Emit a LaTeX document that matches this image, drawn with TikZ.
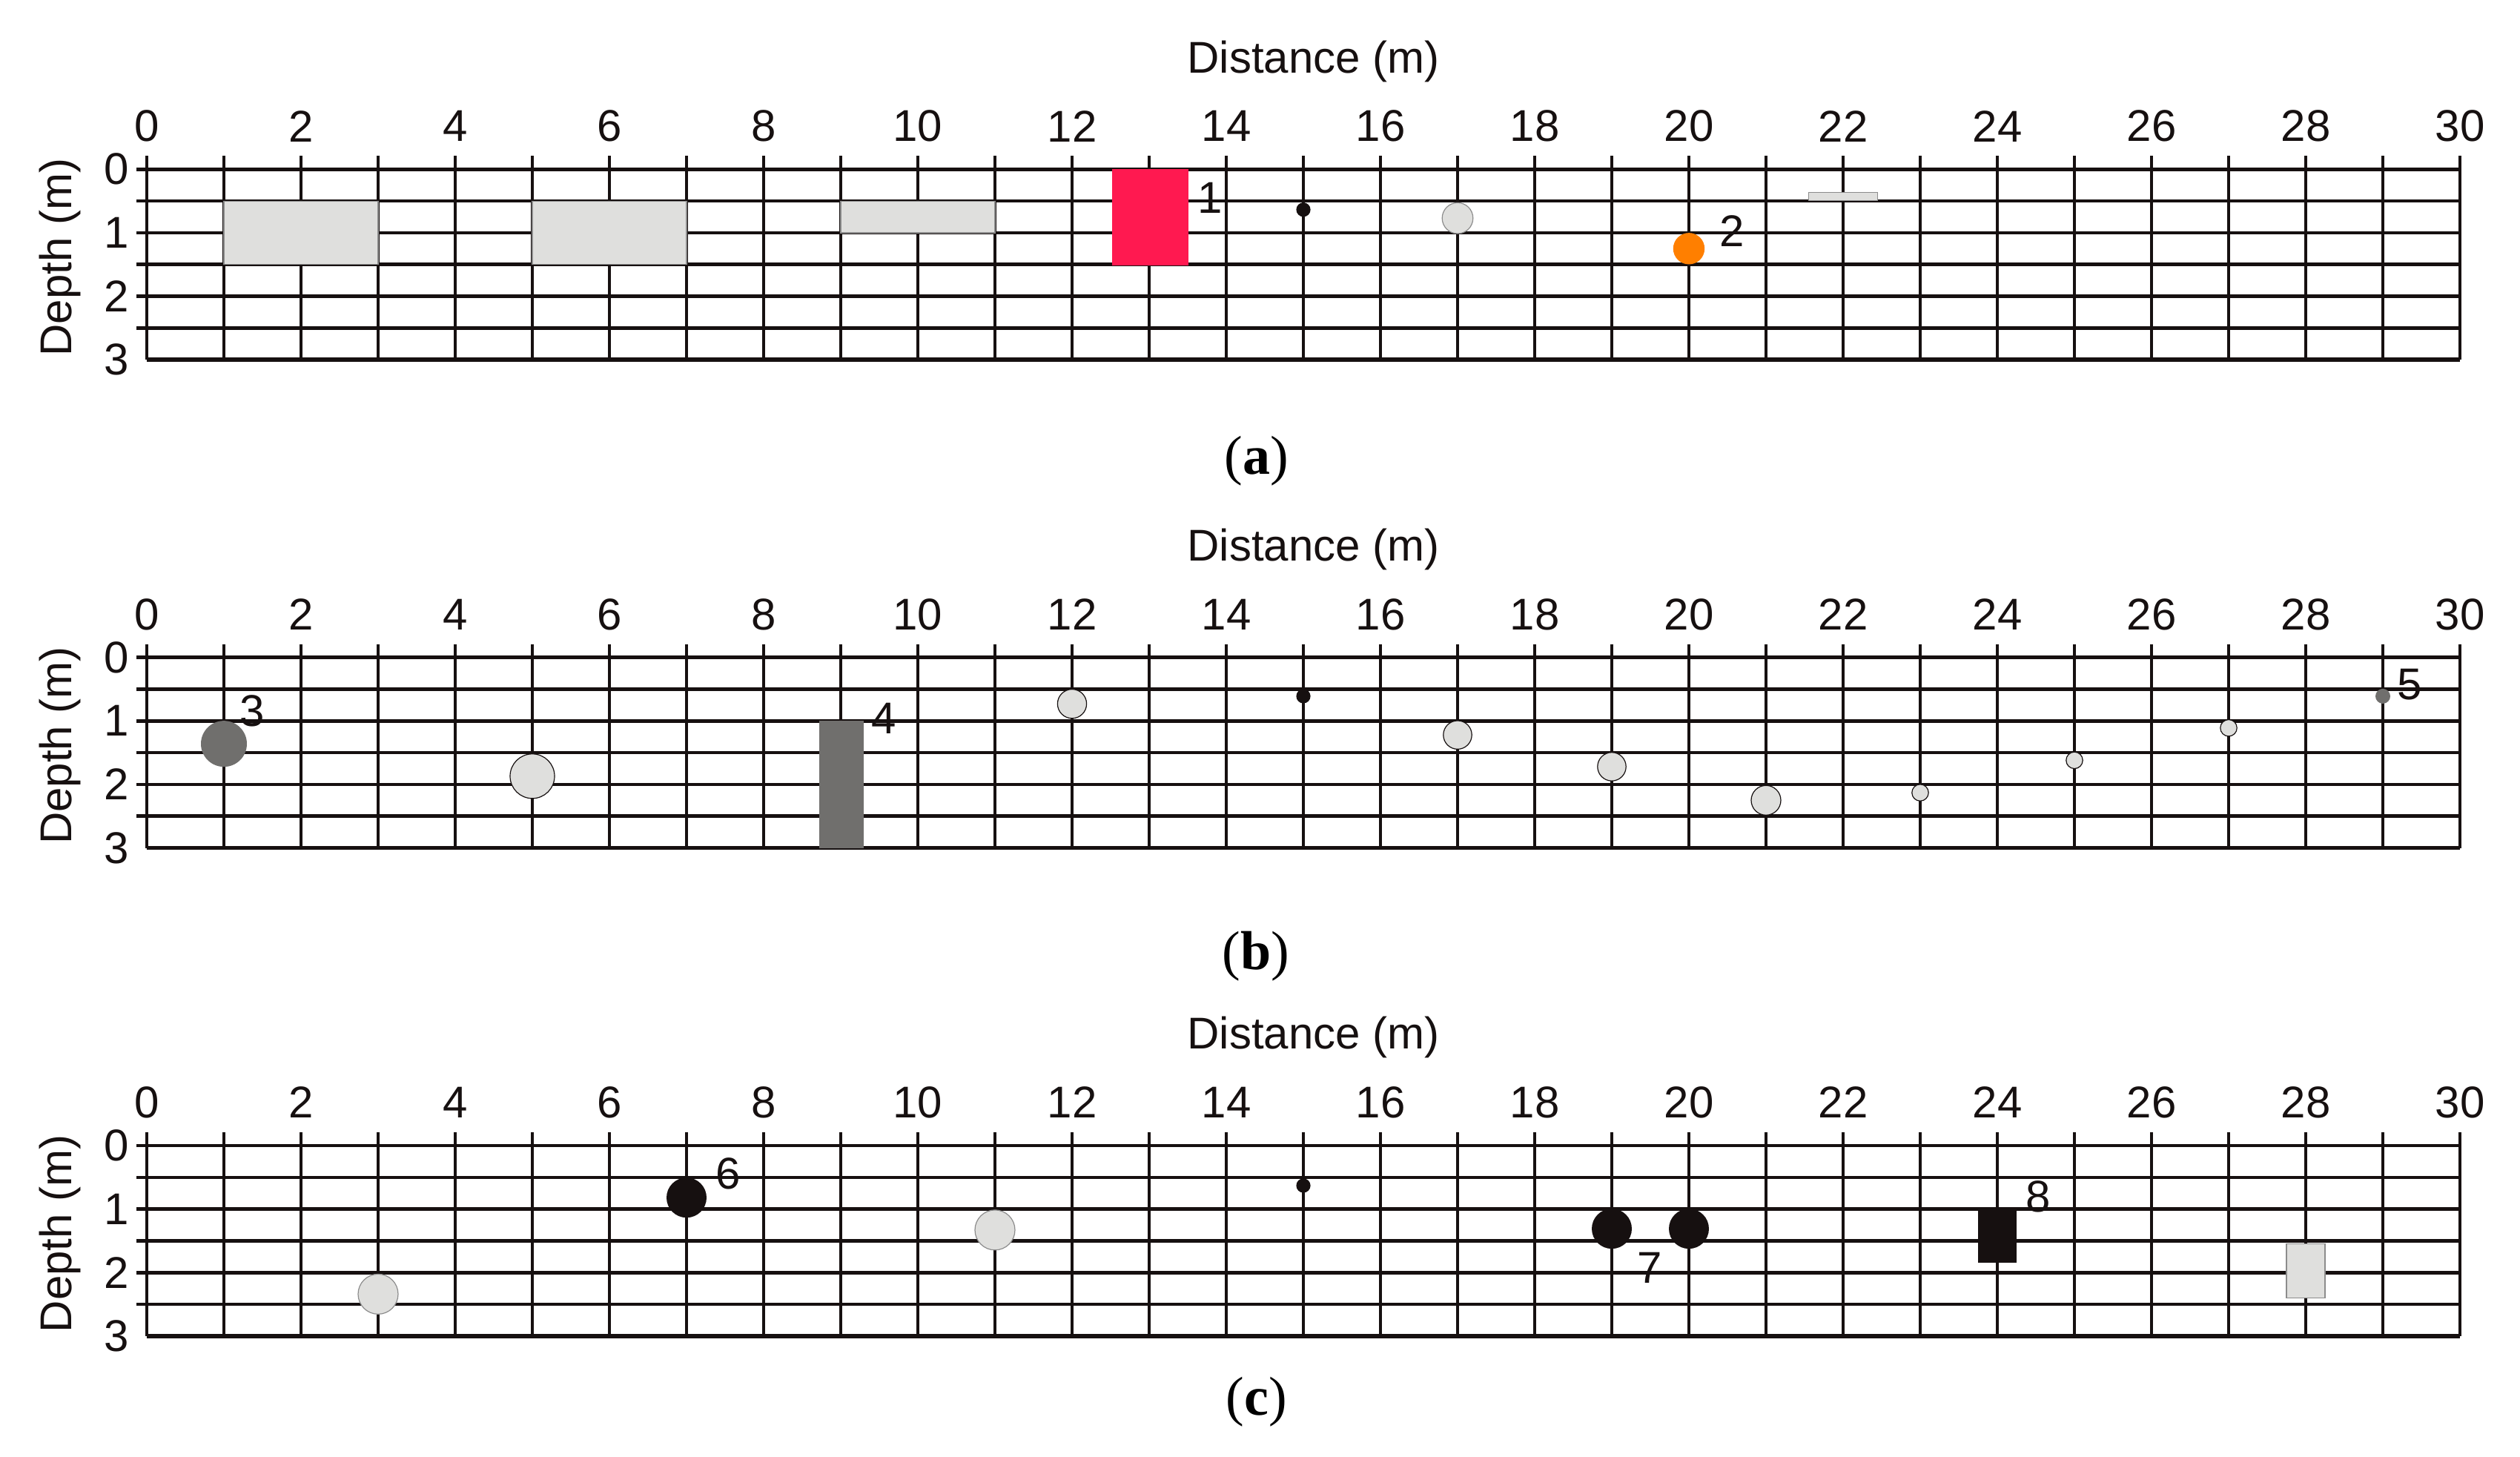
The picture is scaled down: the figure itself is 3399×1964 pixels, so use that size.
\documentclass[tikz,border=0pt]{standalone}
\usepackage{fontspec}
\setmainfont{Liberation Serif}
\newfontfamily\arialf{Liberation Sans}
\definecolor{lgrey}{RGB}{223,223,221}
\definecolor{edgegrey}{RGB}{140,140,140}
\definecolor{dgrey}{RGB}{112,111,109}
\definecolor{redbox}{RGB}{255,25,80}
\definecolor{orangedot}{RGB}{255,127,0}
\definecolor{blk}{RGB}{22,16,16}
\tikzset{
  hline/.style={line width=1.15pt, blk},
  bline/.style={line width=1.45pt, blk},
  vline/.style={line width=0.9pt, blk},
  tick/.style={inner sep=0pt, font=\arialf\fontsize{15}{18}\selectfont, text=blk},
  axlab/.style={inner sep=0pt, font=\arialf\fontsize{15}{18}\selectfont, text=blk},
  captext/.style={inner sep=0pt, font=\fontsize{18.5}{22}\selectfont},
  lgbox/.style={fill=lgrey, draw=edgegrey, line width=0.3pt},
  lgdot/.style={fill=lgrey, draw=blk, line width=0.3pt},
  lgdotb/.style={fill=lgrey, draw=edgegrey, line width=0.3pt},
}
\newcommand\panelgrid[1]{%
  \foreach \d in {0,0.5,1,1.5,2,2.5} \draw[hline] (-0.13,\d) -- (30,\d);
  \draw[bline] (0,3) -- (30,3);
  \foreach \i in {0,...,30} \draw[vline] (\i,-0.21) -- (\i,3);
  \foreach \i in {0,2,...,30} \node[tick] (#1x\i) at (\i,-0.678) {\i};
  \foreach \d in {0,1,2,3} \node[tick] (#1y\d) at (-0.394,\d) {\d};
  \node[axlab, anchor=base] (#1dist) at (15.13,-1.519) {Distance (m)};
  \node[axlab, anchor=base, rotate=90] (#1depth) at (-0.98,1.387) {Depth (m)};
}
\begin{document}
\begin{tikzpicture}[x=0.25pt, y=-0.25pt]
\useasboundingbox (0,0) rectangle (3399,1964);
\fill[white] (0,0) rectangle (3399,1964);

% ---------- panel (a)
\begin{scope}[shift={(198,228.3)}, x=26pt, y=-21.4pt]
  \panelgrid{a}
  \path[lgbox] (1,0.5) rectangle (3,1.5);
  \path[lgbox] (5,0.5) rectangle (7,1.5);
  \path[lgbox] (9,0.5) rectangle (11,1.0);
  \fill[redbox] (12.52,0) rectangle (13.51,1.52);
  \fill[blk] (15,0.636) circle[radius=2.4pt];
  \path[lgdotb] (17,0.77) circle[radius=5.2pt];
  \fill[orangedot] (20,1.25) circle[radius=5.3pt];
  \path[lgbox] (21.55,0.36) rectangle (22.45,0.49);
  \node[tick] (l1) at (13.79,0.45) {1};
  \node[tick] (l2) at (20.56,0.97) {2};
\end{scope}

% ---------- panel (b)
\begin{scope}[shift={(198,886.7)}, x=26pt, y=-21.4pt]
  \panelgrid{b}
  \fill[dgrey] (1,1.36) circle[radius=7.75pt];
  \path[lgdot] (5,1.87) circle[radius=7.5pt];
  \fill[dgrey] (8.72,1.0) rectangle (9.3,3.0);
  \path[lgdot] (12,0.73) circle[radius=4.9pt];
  \fill[blk] (15,0.61) circle[radius=2.4pt];
  \path[lgdot] (17,1.22) circle[radius=4.8pt];
  \path[lgdot] (19,1.72) circle[radius=4.8pt];
  \path[lgdot] (21,2.25) circle[radius=5pt];
  \path[lgdot] (23,2.13) circle[radius=2.8pt];
  \path[lgdot] (25,1.62) circle[radius=2.8pt];
  \path[lgdot] (27,1.11) circle[radius=2.8pt];
  \fill[dgrey] (29,0.61) circle[radius=2.5pt];
  \node[tick] (l3) at (1.37,0.84) {3};
  \node[tick] (l4) at (9.56,0.96) {4};
  \node[tick] (l5) at (29.35,0.43) {5};
\end{scope}

% ---------- panel (c)
\begin{scope}[shift={(198,1545)}, x=26pt, y=-21.4pt]
  \panelgrid{c}
  \path[lgdotb] (3,2.34) circle[radius=6.75pt];
  \fill[blk] (7,0.82) circle[radius=6.75pt];
  \path[lgdotb] (11,1.33) circle[radius=6.75pt];
  \fill[blk] (15,0.63) circle[radius=2.4pt];
  \fill[blk] (19,1.31) circle[radius=6.75pt];
  \fill[blk] (20,1.31) circle[radius=6.75pt];
  \fill[blk] (23.75,1.0) rectangle (24.25,1.85);
  \path[lgbox] (27.75,1.55) rectangle (28.25,2.4);
  \node[tick] (l6) at (7.54,0.44) {6};
  \node[tick] (l7) at (19.49,1.93) {7};
  \node[tick] (l8) at (24.53,0.80) {8};
\end{scope}

% ---------- captions
\node[captext] (capa) at (1695,622) {(\textbf{a})};
\node[captext] (capb) at (1694,1290) {(\textbf{b})};
\node[captext] (capc) at (1695,1891) {(\textbf{c})};
\end{tikzpicture}
\end{document}
